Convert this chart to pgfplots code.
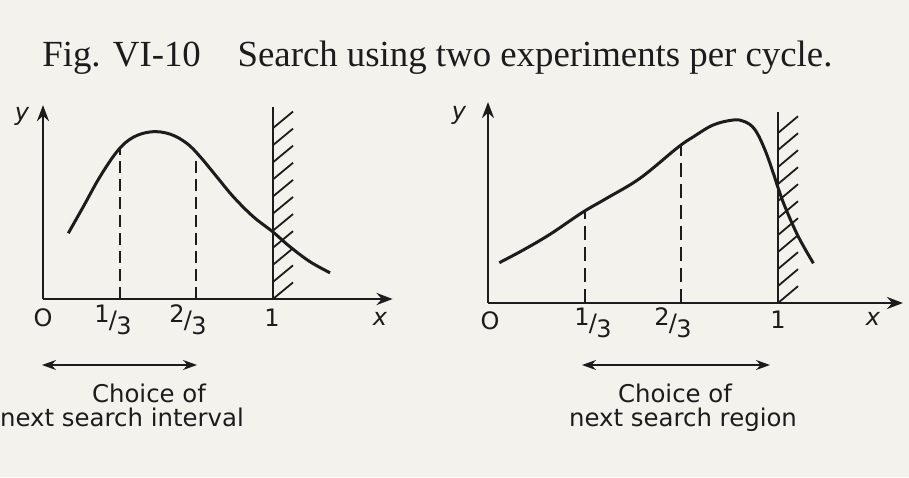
\documentclass[border=0pt]{standalone}
\usepackage{pgfplots}
\pgfplotsset{compat=1.18}
\usepackage{fontspec}
\setmainfont{Liberation Serif}
\newfontfamily\lblfont{DejaVu Sans}
\usetikzlibrary{arrows.meta}
\definecolor{paper}{RGB}{244,242,236}
\definecolor{ink}{RGB}{28,28,28}

% fraction labels written as superscript / subscript
\newcommand{\frc}[2]{\raisebox{0.45ex}{#1}\kern-0.3pt/\kern-0.3pt\raisebox{-0.45ex}{#2}}

% curve of the first experiment (unimodal, peak near the middle)
\pgfplotstableread{
x y
0.110 0.286
0.175 0.401
0.248 0.532
0.325 0.645
0.392 0.703
0.472 0.727
0.552 0.717
0.625 0.677
0.683 0.619
0.755 0.532
0.827 0.445
0.914 0.358
0.999 0.292
1.074 0.227
1.161 0.162
1.248 0.114
}\curveA

% curve of the second experiment (peak close to the boundary)
\pgfplotstableread{
x y
0.039 0.139
0.122 0.183
0.214 0.237
0.325 0.312
0.409 0.361
0.524 0.430
0.654 0.536
0.708 0.573
0.777 0.614
0.846 0.631
0.886 0.625
0.921 0.597
0.955 0.528
0.984 0.447
0.999 0.401
1.024 0.332
1.070 0.229
1.122 0.137
}\curveB

\begin{document}
\begin{tikzpicture}[x=0.5pt,y=0.5pt,
  every node/.style={text=ink},
  lbl/.style={font=\lblfont\fontsize{12}{14}\selectfont, inner sep=0pt},
  captxt/.style={font=\lblfont\fontsize{12.2}{14}\selectfont, inner sep=0pt, anchor=base}]
\useasboundingbox (0,0) rectangle (909,477);
\fill[paper] (0,0) rectangle (909,477);

% title
\node[anchor=base west, inner sep=0pt] at (42,410)
  {\resizebox{395pt}{!}{\fontsize{16}{19}\selectfont Fig. VI-10\quad Search using two experiments per cycle.}};

% ---------------- left panel ----------------
\begin{axis}[at={(21.5pt,89pt)}, anchor=south west, x=115pt, y=115pt,
  hide axis, clip=false, xmin=0, xmax=1.52, ymin=0, ymax=0.85]
  \draw[ink, line width=1.4pt, -{Stealth[length=8pt,width=6pt]}] (axis cs:0,0) -- (axis cs:1.52,0);
  \draw[ink, line width=1.4pt, -{Stealth[length=8pt,width=6pt]}] (axis cs:0,0) -- (axis cs:0,0.843);
  \addplot[ink, line width=1.5pt, smooth, tension=0.6] table {\curveA};
  \addplot[ink, line width=1.1pt, dash pattern=on 6pt off 3pt] coordinates {(1/3,0) (1/3,0.655)};
  \addplot[ink, line width=1.1pt, dash pattern=on 6pt off 3pt] coordinates {(2/3,0) (2/3,0.619)};
  \addplot[ink, line width=1.3pt] coordinates {(1,0) (1,0.835)};
  \pgfplotsinvokeforeach{0,...,10}{
    \draw[ink, line width=0.9pt] (axis cs:1,{#1*0.0743}) -- (axis cs:1.087,{#1*0.0743+0.072});
  }
\end{axis}

\node[lbl] at (43,159) {O};
\node[lbl] at (113,157) {\frc{1}{3}};
\node[lbl] at (188,157) {\frc{2}{3}};
\node[lbl] at (272,159) {1};
\node[lbl] at (380,158) {\itshape x};
\node[lbl] at (22,361) {\itshape y};

\draw[ink, line width=0.8pt, {Stealth[length=7pt,width=5pt]}-{Stealth[length=7pt,width=5pt]}] (42,112) -- (197,112);
\node[captxt] at (149,75) {Choice of};
\node[captxt] at (122,51) {next search interval};

% ---------------- right panel ----------------
\begin{axis}[at={(244pt,87pt)}, anchor=south west, x=145pt, y=145pt,
  hide axis, clip=false, xmin=0, xmax=1.431, ymin=0, ymax=0.7]
  \draw[ink, line width=1.4pt, -{Stealth[length=8pt,width=6pt]}] (axis cs:0,0) -- (axis cs:1.431,0);
  \draw[ink, line width=1.4pt, -{Stealth[length=8pt,width=6pt]}] (axis cs:0,0) -- (axis cs:0,0.693);
  \addplot[ink, line width=1.5pt, smooth, tension=0.6] table {\curveB};
  \addplot[ink, line width=1.1pt, dash pattern=on 7pt off 3.5pt] coordinates {(1/3,0) (1/3,0.315)};
  \addplot[ink, line width=1.1pt, dash pattern=on 7pt off 3.5pt] coordinates {(2/3,0) (2/3,0.542)};
  \addplot[ink, line width=1.3pt] coordinates {(1,0) (1,0.659)};
  \pgfplotsinvokeforeach{0,...,10}{
    \draw[ink, line width=0.9pt] (axis cs:1,{#1*0.0586}) -- (axis cs:1.069,{#1*0.0586+0.058});
  }
\end{axis}

\node[lbl] at (490,156) {O};
\node[lbl] at (593,154) {\frc{1}{3}};
\node[lbl] at (673,154) {\frc{2}{3}};
\node[lbl] at (778,157) {1};
\node[lbl] at (873,158) {\itshape x};
\node[lbl] at (459,362) {\itshape y};

\draw[ink, line width=0.8pt, {Stealth[length=7pt,width=5pt]}-{Stealth[length=7pt,width=5pt]}] (582,112) -- (770,112);
\node[captxt] at (675,75) {Choice of};
\node[captxt] at (683,51) {next search region};
\end{tikzpicture}
\end{document}
